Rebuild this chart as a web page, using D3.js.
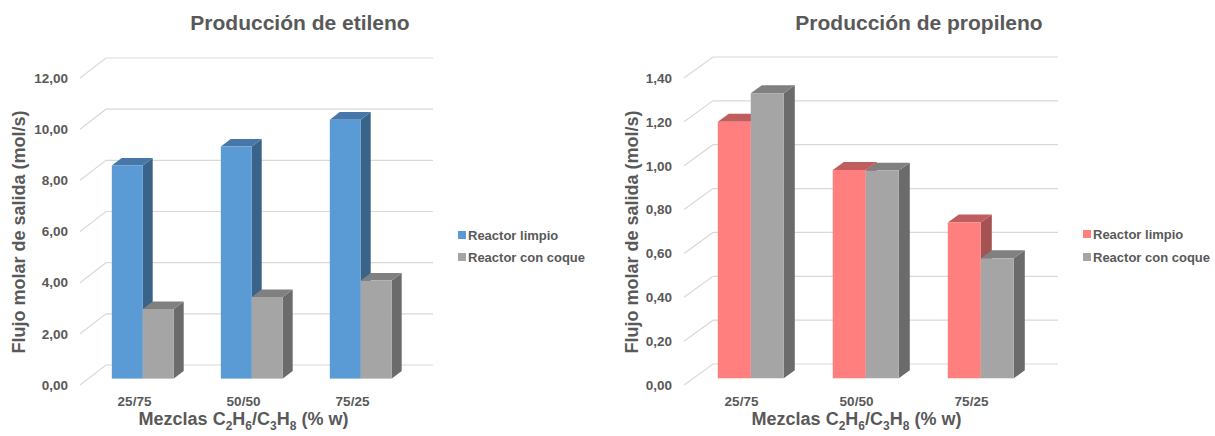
<!DOCTYPE html>
<html>
<head>
<meta charset="utf-8">
<script src="https://cdn.jsdelivr.net/npm/d3@7"></script>
<style>
  body { margin: 0; background: #fff; }
  svg { display: block; font-family: "Liberation Sans", Arial, sans-serif; }
</style>
</head>
<body>
<svg id="chart" width="1215" height="436"></svg>
<script>
// Mixtures (wt % ethane / propane) and outlet molar flows (mol/s)
const mixtures = ["25/75", "50/50", "75/25"];
const seriesNames = ["Reactor limpio", "Reactor con coque"];

const ethyleneClean = [8.33, 9.07, 10.12];
const ethyleneCoked = [2.72, 3.19, 3.83];
const propyleneClean = [1.17, 0.95, 0.71];
const propyleneCoked = [1.30, 0.947, 0.547];

const ethyleneTicks = [0, 2, 4, 6, 8, 10, 12];
const propyleneTicks = [0, 0.2, 0.4, 0.6, 0.8, 1.0, 1.2, 1.4];

const yTitle = "Flujo molar de salida (mol/s)";

const textColor = "#595959";
const gridColor = "#D9D9D9";

const locale = d3.formatLocale({ decimal: ",", thousands: ".", grouping: [3], currency: ["", "€"] });
const fmt = locale.format(".2f");

const svg = d3.select("#chart");

// Panel geometry: back wall extents, oblique depth vector, bar placement
const panels = [
  {
    title: "Producción de etileno",
    titleX: 300,
    wallX: [106, 433],
    wallY: [365, 58],
    domainMax: 12,
    ticks: ethyleneTicks,
    depth: [26, 20],
    barW: 31,
    series: [ethyleneClean, ethyleneCoked],
    colors: [
      { front: "#5B9BD5", top: "#4677A8", side: "#3A6389" },
      { front: "#A5A5A5", top: "#808080", side: "#6B6B6B" }
    ],
    yTitleX: 25,
    legendX: 458,
    legendY: [235, 257]
  },
  {
    title: "Producción de propileno",
    titleX: 919,
    wallX: [713, 1058],
    wallY: [364, 57],
    domainMax: 1.4,
    ticks: propyleneTicks,
    depth: [29, 21],
    barW: 33,
    series: [propyleneClean, propyleneCoked],
    colors: [
      { front: "#FF7F7F", top: "#C05E5E", side: "#A55252" },
      { front: "#A5A5A5", top: "#808080", side: "#6B6B6B" }
    ],
    yTitleX: 638,
    legendX: 1083,
    legendY: [234, 257]
  }
];

const frontFrac = 0.68;  // bar front face position between back wall and front edge
const depthFrac = 0.38;  // bar depth as a fraction of the floor depth

panels.forEach(p => {
  const g = svg.append("g");
  const [dX, dY] = p.depth;

  // value scale on the back wall
  const yWall = d3.scaleLinear().domain([0, p.domainMax]).range(p.wallY);
  // same scale on the front edge of the floor (where tick labels sit)
  const yEdge = d3.scaleLinear().domain([0, p.domainMax]).range(p.wallY.map(v => v + dY));
  // category scale on the back wall and on the front edge
  const xWall = d3.scaleBand().domain(mixtures).range(p.wallX).padding(0);
  const xEdge = d3.scaleBand().domain(mixtures).range(p.wallX.map(v => v - dX)).padding(0);

  // gridlines: floor/side diagonal + back wall horizontal
  g.append("g").selectAll("path").data(p.ticks).join("path")
    .attr("d", t => `M${p.wallX[0] - dX},${yWall(t) + dY}L${p.wallX[0]},${yWall(t)}L${p.wallX[1]},${yWall(t)}`)
    .attr("fill", "none")
    .attr("stroke", gridColor)
    .attr("stroke-width", 1.2);

  // bars
  const ox = -dX * frontFrac, oy = dY * frontFrac;
  const bx = dX * depthFrac, by = dY * depthFrac;
  const yFront = v => yWall(v) + oy;
  const bars = g.append("g");
  mixtures.forEach((m, ci) => {
    const center = xWall(m) + xWall.bandwidth() / 2 + ox;
    p.series.forEach((vals, si) => {
      const v = vals[ci];
      const x0 = center - p.barW + si * p.barW;
      const x1 = x0 + p.barW;
      const yt = yFront(v), yb = yFront(0);
      const c = p.colors[si];
      const bar = bars.append("g");
      bar.append("path")
        .attr("d", `M${x1},${yt}L${x1 + bx},${yt - by}L${x1 + bx},${yb - by}L${x1},${yb}Z`)
        .attr("fill", c.side);
      bar.append("path")
        .attr("d", `M${x0},${yt}L${x1},${yt}L${x1 + bx},${yt - by}L${x0 + bx},${yt - by}Z`)
        .attr("fill", c.top);
      bar.append("rect")
        .attr("x", x0).attr("y", yt)
        .attr("width", p.barW).attr("height", yb - yt)
        .attr("fill", c.front);
    });
  });

  // value axis labels
  const yAxis = g.append("g")
    .attr("transform", `translate(${p.wallX[0] - dX - 12},0)`)
    .call(d3.axisLeft(yEdge).tickValues(p.ticks).tickFormat(fmt).tickSize(0).tickPadding(0));
  yAxis.select(".domain").remove();
  yAxis.selectAll("text")
    .attr("fill", textColor)
    .style("font-size", "13.5px")
    .style("font-weight", "bold")
    .style("font-family", "'Liberation Sans', Arial, sans-serif");

  // category axis labels
  const xAxis = g.append("g")
    .attr("transform", `translate(0,396.5)`)
    .call(d3.axisBottom(xEdge).tickSize(0).tickPadding(0));
  xAxis.select(".domain").remove();
  xAxis.selectAll("text")
    .attr("fill", textColor)
    .style("font-size", "13.5px")
    .style("font-weight", "bold")
    .style("font-family", "'Liberation Sans', Arial, sans-serif");

  // chart title
  g.append("text")
    .attr("x", p.titleX).attr("y", 30)
    .attr("text-anchor", "middle")
    .attr("fill", textColor)
    .style("font-size", "21px")
    .style("font-weight", "bold")
    .text(p.title);

  // value axis title
  g.append("text")
    .attr("transform", `translate(${p.yTitleX},232) rotate(-90)`)
    .attr("text-anchor", "middle")
    .attr("fill", textColor)
    .style("font-size", "18px")
    .style("font-weight", "bold")
    .text(yTitle);

  // category axis title with subscripts
  const xt = g.append("text")
    .attr("x", (p.wallX[0] + p.wallX[1]) / 2 - dX)
    .attr("y", 425)
    .attr("text-anchor", "middle")
    .attr("fill", textColor)
    .style("font-size", "18px")
    .style("font-weight", "bold");
  const parts = [["Mezclas C", 0], ["2", 1], ["H", 0], ["6", 1], ["/C", 0], ["3", 1], ["H", 0], ["8", 1], [" (% w)", 0]];
  let sub = false;
  parts.forEach(([s, isSub]) => {
    const ts = xt.append("tspan").text(s);
    if (isSub && !sub) { ts.attr("dy", 5).style("font-size", "12px"); sub = true; }
    else if (isSub) { ts.style("font-size", "12px"); }
    else if (sub) { ts.attr("dy", -5); sub = false; }
  });

  // legend
  seriesNames.forEach((name, si) => {
    const ly = p.legendY[si];
    g.append("rect")
      .attr("x", p.legendX).attr("y", ly - 4)
      .attr("width", 8).attr("height", 8)
      .attr("fill", p.colors[si].front);
    g.append("text")
      .attr("x", p.legendX + 10).attr("y", ly + 4.5)
      .attr("fill", textColor)
      .style("font-size", "13px")
      .style("font-weight", "bold")
      .text(name);
  });
});
</script>
</body>
</html>
